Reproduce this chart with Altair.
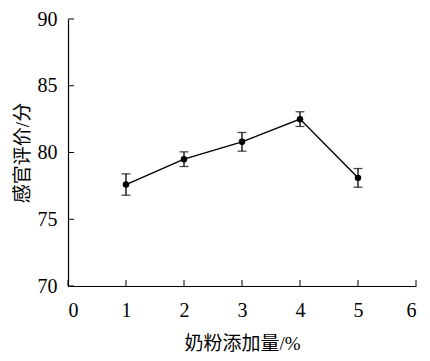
import altair as alt
import pandas as pd

dose = [1, 2, 3, 4, 5]
score = [77.6, 79.5, 80.8, 82.5, 78.1]
err = [0.8, 0.55, 0.7, 0.55, 0.7]
x_ticks = [0, 1, 2, 3, 4, 5, 6]
y_ticks = [70, 75, 80, 85, 90]

df = pd.DataFrame({"x": dose, "y": score, "e": err})
df["lo"] = df["y"] - df["e"]
df["hi"] = df["y"] + df["e"]

W, H = 348, 267
NUM_FONT = "Liberation Serif"
TITLE_FONT = "Liberation Serif, Noto Sans CJK SC"

xs = alt.Scale(domain=[0, 6], nice=False)
ys = alt.Scale(domain=[70, 90], nice=False, zero=False)

base = alt.Chart(df)

line = base.mark_line(color="black", strokeWidth=1.4).encode(
    x=alt.X("x:Q", scale=xs, axis=alt.Axis(values=x_ticks, title="奶粉添加量/%", format="d",
                                           titleY=57, titleBaseline="middle")),
    y=alt.Y("y:Q", scale=ys, axis=alt.Axis(values=y_ticks, title="感官评价/分", format="d",
                                           titleX=-46, titleBaseline="middle")),
)
pts = base.mark_point(filled=True, color="black", size=42, opacity=1).encode(
    x=alt.X("x:Q", scale=xs), y=alt.Y("y:Q", scale=ys)
)
bars = base.mark_rule(color="black", strokeWidth=1.3).encode(
    x=alt.X("x:Q", scale=xs), y=alt.Y("lo:Q", scale=ys), y2="hi:Q"
)
cap_hi = base.mark_tick(color="black", size=9, thickness=1.3, orient="horizontal").encode(
    x=alt.X("x:Q", scale=xs), y=alt.Y("hi:Q", scale=ys)
)
cap_lo = base.mark_tick(color="black", size=9, thickness=1.3, orient="horizontal").encode(
    x=alt.X("x:Q", scale=xs), y=alt.Y("lo:Q", scale=ys)
)

xt = alt.Chart(pd.DataFrame({"t": x_ticks})).mark_rule(color="black", strokeWidth=1).encode(
    x=alt.X("t:Q", scale=xs), y=alt.value(H), y2=alt.value(H - 6)
)
yt = alt.Chart(pd.DataFrame({"t": y_ticks})).mark_rule(color="black", strokeWidth=1).encode(
    y=alt.Y("t:Q", scale=ys), x=alt.value(0), x2=alt.value(6)
)

chart = alt.layer(xt, yt, line, bars, cap_hi, cap_lo, pts).properties(
    width=W, height=H,
    autosize=alt.AutoSizeParams(type="none"),
    padding={"left": 60, "top": 11, "right": 6, "bottom": 67},
    background="white",
).configure_view(stroke=None).configure_axis(
    domainColor="black", domainWidth=1.2, ticks=False, grid=False,
    labelFont=NUM_FONT, labelFontSize=20, labelColor="black",
    titleFont=TITLE_FONT, titleFontSize=19, titleColor="black", titleFontWeight="normal",
).configure_axisX(labelPadding=14).configure_axisY(labelPadding=11)

chart.save("out.html", embed_options={"renderer": "svg", "actions": False})
